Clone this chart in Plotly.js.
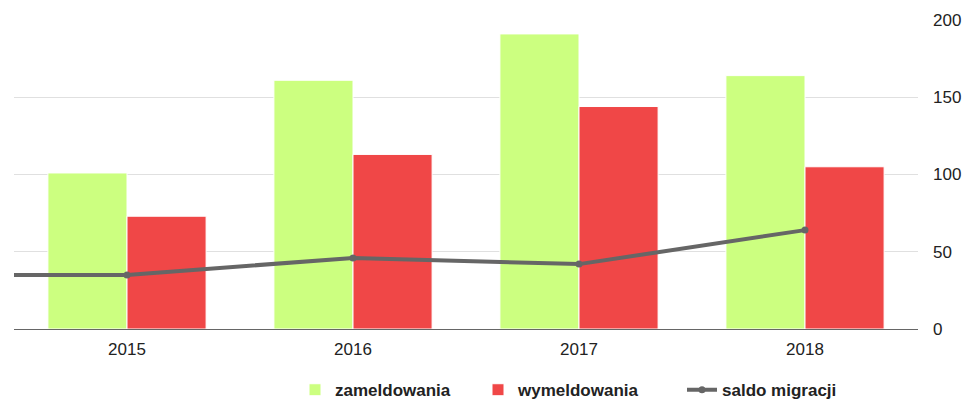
<!DOCTYPE html>
<html><head><meta charset="utf-8">
<script src="https://cdn.plot.ly/plotly-3.0.1.min.js"></script>
<style>html,body{margin:0;padding:0;background:#fff}#chart{width:964px;height:401px}</style>
</head><body><div id="chart"></div>
<script>
const years = [2015, 2016, 2017, 2018];
const tickLabels = ["2015", "2016", "2017", "2018"];
const zameldowania = [101, 161, 191, 164];
const wymeldowania = [73, 113, 144, 105];
// saldo line continues flat off the left edge of the plot
const saldoYears = [2014, 2015, 2016, 2017, 2018];
const saldo = [35, 35, 46, 42, 64];

const font = "Liberation Sans, Arial, sans-serif";
const legFont = {family:font, size:17, color:"#222", weight:"bold"};
const legBase = {orientation:"h", xref:"container", yref:"container", y:0.027, yanchor:"middle",
                 xanchor:"left", font:legFont, bgcolor:"rgba(0,0,0,0)"};
const data = [
  {type:"bar", name:"zameldowania", x:years, y:zameldowania, legend:"legend",
   marker:{color:"#ccff80", line:{color:"#ffffff", width:1}}},
  {type:"bar", name:"wymeldowania", x:years, y:wymeldowania, legend:"legend2",
   marker:{color:"#f04747", line:{color:"#ffffff", width:1}}},
  {type:"scatter", mode:"lines+markers", name:"saldo migracji", x:saldoYears, y:saldo, legend:"legend3",
   line:{color:"#666666", width:4}, marker:{color:"#666666", size:7}}
];
const layout = {
  width:964, height:401,
  margin:{l:14, r:46, t:20, b:72},
  paper_bgcolor:"#fff", plot_bgcolor:"#fff",
  font:{family:font, size:17, color:"#222"},
  barmode:"group", bargap:0.3, bargroupgap:0,
  showlegend:true,
  legend:Object.assign({}, legBase, {x:295/964}),
  legend2:Object.assign({}, legBase, {x:478/964}),
  legend3:Object.assign({}, legBase, {x:682/964}),
  xaxis:{range:[2014.5, 2018.5], tickvals:years, ticktext:tickLabels,
         showgrid:false, zeroline:false, showline:false, ticks:"", ticklabelstandoff:8,
         tickfont:{size:17, color:"#222"}},
  yaxis:{side:"right", range:[0,200], tickvals:[0,50,100,150,200], gridcolor:"#e0e0e0",
         gridwidth:1, zeroline:true, zerolinecolor:"#666", zerolinewidth:1, showline:false,
         ticks:"", ticklabelstandoff:14, tickfont:{size:17, color:"#222"}}
};
Plotly.newPlot("chart", data, layout, {displayModeBar:false, staticPlot:true});
</script></body></html>
